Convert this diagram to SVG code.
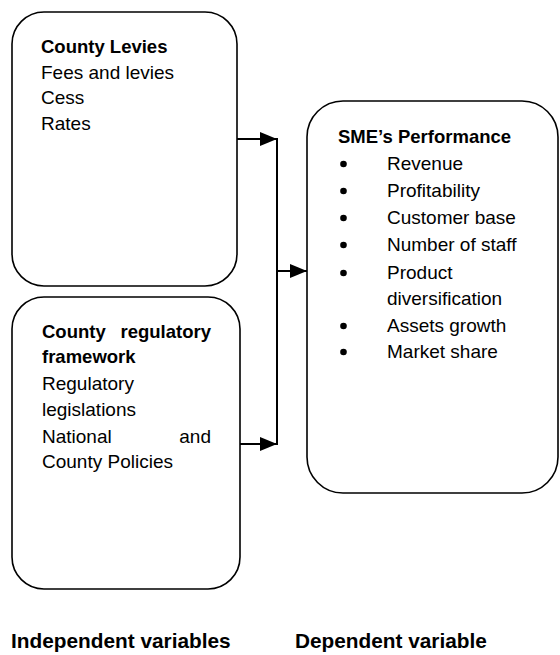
<svg xmlns="http://www.w3.org/2000/svg" width="560" height="655" viewBox="0 0 560 655">
  <style>
    .box { fill: #ffffff; stroke: #000000; stroke-width: 1.6; }
    .txt { font-family: "Liberation Sans", Arial, sans-serif; font-size: 19px; fill: #000000; }
    .b { font-weight: bold; font-size: 18.5px; }
    .lbl { font-family: "Liberation Sans", Arial, sans-serif; font-size: 20.8px; font-weight: bold; fill: #000000; }
    .wire { fill: none; stroke: #000000; stroke-width: 2; }
  </style>
  <defs>
    <marker id="arrow" viewBox="0 0 10 10" refX="10" refY="5" markerWidth="17" markerHeight="14" markerUnits="userSpaceOnUse" orient="auto" preserveAspectRatio="none">
      <path d="M0,0 L10,5 L0,10 Z" fill="#000000"/>
    </marker>
  </defs>
  <rect width="560" height="655" fill="#ffffff"/>

  <g id="county-levies">
    <rect class="box" x="12" y="12" width="225" height="274" rx="32" ry="32"/>
    <text class="txt b" x="41" y="53">County Levies</text>
    <text class="txt" x="41" y="78.5">Fees and levies</text>
    <text class="txt" x="41" y="104">Cess</text>
    <text class="txt" x="41" y="129.5">Rates</text>
  </g>

  <g id="county-regulatory-framework">
    <rect class="box" x="12" y="297" width="228" height="292" rx="32" ry="32"/>
    <text class="txt b" x="42" y="338">County</text>
    <text class="txt b" x="211" y="338" text-anchor="end">regulatory</text>
    <text class="txt b" x="42" y="363">framework</text>
    <text class="txt" x="42" y="390">Regulatory</text>
    <text class="txt" x="42" y="416">legislations</text>
    <text class="txt" x="42" y="443">National</text>
    <text class="txt" x="211" y="443" text-anchor="end">and</text>
    <text class="txt" x="42" y="468">County Policies</text>
  </g>

  <g id="sme-performance">
    <rect class="box" x="307" y="101" width="251" height="392" rx="36" ry="36"/>
    <text class="txt b" x="338" y="143">SME’s Performance</text>
    <g fill="#000000">
      <circle cx="343.5" cy="164" r="3.3"/>
      <circle cx="343.5" cy="191" r="3.3"/>
      <circle cx="343.5" cy="218" r="3.3"/>
      <circle cx="343.5" cy="245" r="3.3"/>
      <circle cx="343.5" cy="273" r="3.3"/>
      <circle cx="343.5" cy="326" r="3.3"/>
      <circle cx="343.5" cy="352" r="3.3"/>
    </g>
    <text class="txt" x="387" y="170">Revenue</text>
    <text class="txt" x="387" y="197">Profitability</text>
    <text class="txt" x="387" y="224">Customer base</text>
    <text class="txt" x="387" y="251">Number of staff</text>
    <text class="txt" x="387" y="279">Product</text>
    <text class="txt" x="387" y="305">diversification</text>
    <text class="txt" x="387" y="332">Assets growth</text>
    <text class="txt" x="387" y="358">Market share</text>
  </g>

  <g id="connectors">
    <line class="wire" x1="237" y1="139" x2="277" y2="139" marker-end="url(#arrow)"/>
    <line class="wire" x1="240" y1="444" x2="277" y2="444" marker-end="url(#arrow)"/>
    <line class="wire" x1="277" y1="138" x2="277" y2="445"/>
    <line class="wire" x1="277" y1="271" x2="307" y2="271" marker-end="url(#arrow)"/>
  </g>

  <g id="legend">
    <text class="lbl" x="11" y="648">Independent variables</text>
    <text class="lbl" x="295" y="648">Dependent variable</text>
  </g>
</svg>
